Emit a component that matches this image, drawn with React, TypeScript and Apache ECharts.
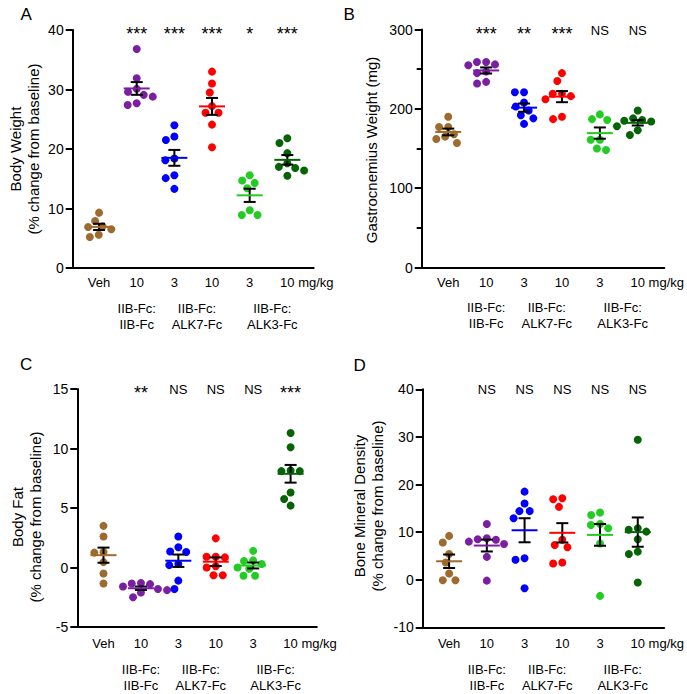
import React, { useEffect, useRef } from "react";
import * as echarts from "echarts";

const FONT = "'Liberation Sans', Arial, Helvetica, sans-serif";

const tickLabels = ["Veh", "10", "3", "10", "3", "10"];
const unitSuffix = " mg/kg";
const groupLabels = ["IIB-Fc:\nIIB-Fc", "IIB-Fc:\nALK7-Fc", "IIB-Fc:\nALK3-Fc"];
const groupLabelPos = [1, 2.6, 4.6];
const groupColors = ["#9E6B2F", "#7B1FA2", "#0000FF", "#FF0000", "#22CC22", "#066406"];

const bodyWeightVeh = [9.3, 7.9, 7.0, 6.9, 6.5, 5.6, 5.2];
const bodyWeightIIB10 = [36.8, 31.9, 30.1, 29.6, 29.1, 28.8, 27.7, 27.4];
const bodyWeightALK7_3 = [24.0, 22.1, 21.5, 18.4, 18.1, 15.6, 15.1, 13.3];
const bodyWeightALK7_10 = [33.0, 31.0, 29.5, 27.2, 26.1, 26.1, 24.1, 20.3];
const bodyWeightALK3_3 = [15.6, 14.7, 14.3, 13.4, 9.7, 8.9, 8.9];
const bodyWeightALK3_10 = [21.8, 21.0, 19.3, 17.6, 17.0, 16.8, 16.4, 15.5];
const bodyWeightSig = ["", "***", "***", "***", "*", "***"];

const gastroVeh = [190, 177, 177, 168, 165, 162, 157];
const gastroIIB10 = [259, 259, 256, 255, 247, 245, 234, 232];
const gastroALK7_3 = [221, 221, 208, 203, 198, 192, 188, 181];
const gastroALK7_10 = [245, 235, 219, 219, 216, 212, 190, 187];
const gastroALK3_3 = [193, 187, 186, 161, 161, 150, 148];
const gastroALK3_10 = [198, 188, 186, 185, 184, 178, 173, 167];
const gastroSig = ["", "***", "**", "***", "NS", "NS"];

const fatVeh = [3.5, 2.6, 1.3, 1.25, 0.45, -0.5, -1.35];
const fatIIB10 = [-1.3, -1.35, -1.4, -1.6, -1.8, -1.9, -2.1, -2.5];
const fatALK7_3 = [2.6, 1.7, 1.35, 1.3, 0.3, 0.2, -1.1, -1.8];
const fatALK7_10 = [2.45, 0.9, 0.9, 0.85, 0.1, 0.0, -0.65, -0.65];
const fatALK3_3 = [1.4, 0.6, 0.55, 0.3, 0.0, -0.1, -0.7, -0.7];
const fatALK3_10 = [11.3, 10.1, 8.15, 8.1, 8.1, 6.3, 5.75, 5.2];
const fatSig = ["", "**", "NS", "NS", "NS", "***"];

const bmdVeh = [9.2, 7.8, 5.4, 3.6, 1.3, -0.1, -0.1];
const bmdIIB10 = [11.7, 8.7, 8.5, 8.4, 8.0, 7.5, 4.8, -0.2];
const bmdALK7_3 = [18.5, 16.0, 14.4, 14.4, 12.9, 4.5, 4.2, -1.8];
const bmdALK7_10 = [17.1, 16.9, 15.3, 8.4, 7.3, 6.8, 3.4, 3.6];
const bmdALK3_3 = [14.1, 13.6, 11.7, 11.5, 10.8, 7.6, -3.4];
const bmdALK3_10 = [29.4, 10.8, 10.5, 10.1, 8.5, 5.9, 5.4, -0.6];
const bmdSig = ["", "NS", "NS", "NS", "NS", "NS"];

type Panel = {
  letter: string;
  letterPos: [number, number];
  title: string;
  titlePos: [number, number];
  grid: { left: number; top: number; width: number; height: number };
  yMin: number;
  yMax: number;
  yInterval: number;
  minor: boolean;
  groups: number[][];
  sig: string[];
  labelMargin: number;
};

const panels: Panel[] = [
  {
    letter: "A", letterPos: [20.5, 14], title: "Body Weight\n(% change from baseline)", titlePos: [24.7, 149],
    grid: { left: 72.7, top: 30, width: 241, height: 238 },
    yMin: 0, yMax: 40, yInterval: 10, minor: false,
    groups: [bodyWeightVeh, bodyWeightIIB10, bodyWeightALK7_3, bodyWeightALK7_10, bodyWeightALK3_3, bodyWeightALK3_10],
    sig: bodyWeightSig, labelMargin: 8,
  },
  {
    letter: "B", letterPos: [343.5, 14], title: "Gastrocnemius Weight (mg)", titlePos: [371, 150],
    grid: { left: 421.7, top: 29.5, width: 243, height: 238 },
    yMin: 0, yMax: 300, yInterval: 100, minor: true,
    groups: [gastroVeh, gastroIIB10, gastroALK7_3, gastroALK7_10, gastroALK3_3, gastroALK3_10],
    sig: gastroSig, labelMargin: 8,
  },
  {
    letter: "C", letterPos: [20, 364], title: "Body Fat\n(% change from baseline)", titlePos: [26.2, 517],
    grid: { left: 77.3, top: 389, width: 239.5, height: 238 },
    yMin: -5, yMax: 15, yInterval: 5, minor: false,
    groups: [fatVeh, fatIIB10, fatALK7_3, fatALK7_10, fatALK3_3, fatALK3_10],
    sig: fatSig, labelMargin: 10,
  },
  {
    letter: "D", letterPos: [353.5, 365], title: "Bone Mineral Density\n(% change from baseline)", titlePos: [368.3, 506],
    grid: { left: 422.7, top: 389.3, width: 242, height: 238 },
    yMin: -10, yMax: 40, yInterval: 10, minor: false,
    groups: [bmdVeh, bmdIIB10, bmdALK7_3, bmdALK7_10, bmdALK3_3, bmdALK3_10],
    sig: bmdSig, labelMargin: 10,
  },
];

const X_MIN = -0.7;
const X_MAX = 5.7;
const DOT = 8;
const POSITIONS = [0, 1, 2, 3, 4, 5];

function swarmOffsets(vals: number[], yPx: number, xPx: number, d: number): number[] {
  const order = vals.map((_, i) => i).sort((a, b) => vals[b] - vals[a]);
  const placed: { x: number; y: number }[] = [];
  const offs = new Array(vals.length).fill(0);
  for (const i of order) {
    const y = vals[i] * yPx;
    const cands: number[] = [0];
    for (const p of placed) {
      const dy = Math.abs(p.y - y);
      if (dy < d) {
        const dx = Math.sqrt(d * d - dy * dy);
        cands.push(p.x + dx, p.x - dx);
      }
    }
    cands.sort((a, b) => Math.abs(a) - Math.abs(b) || a - b);
    let best = 0;
    for (const c of cands) {
      if (placed.every((p) => (p.x - c) ** 2 + (p.y - y) ** 2 >= d * d - 1e-6)) {
        best = c;
        break;
      }
    }
    placed.push({ x: best, y });
    offs[i] = best / xPx;
  }
  return offs;
}

function meanSem(vals: number[]): [number, number] {
  const n = vals.length;
  const m = vals.reduce((a, b) => a + b, 0) / n;
  const v = vals.reduce((a, b) => a + (b - m) ** 2, 0) / (n - 1);
  return [m, Math.sqrt(v) / Math.sqrt(n)];
}

function sigAxis(p: Panel, pi: number, kind: "star" | "text") {
  const isKind = (s: string) => !!s && (kind === "star" ? s.includes("*") : !s.includes("*"));
  return {
    type: "value", gridIndex: pi, min: X_MIN, max: X_MAX, position: "top",
    axisLine: { show: false },
    axisTick: { show: false },
    splitLine: { show: false },
    axisLabel: {
      show: true,
      customValues: POSITIONS,
      margin: kind === "star" ? -13 : -7,
      color: "#000",
      fontFamily: FONT,
      fontSize: kind === "star" ? 18 : 13,
      formatter: (v: number) => {
        const i = Math.round(v);
        const s = p.sig[i];
        return s && isKind(s) ? s : "";
      },
    },
  };
}

function buildOption() {
  const grids: any[] = [];
  const xAxes: any[] = [];
  const yAxes: any[] = [];
  const series: any[] = [];
  const graphics: any[] = [];

  panels.forEach((p, pi) => {
    grids.push({ ...p.grid, containLabel: false });
    const xPx = p.grid.width / (X_MAX - X_MIN);
    const yPx = p.grid.height / (p.yMax - p.yMin);
    const xi = xAxes.length;

    xAxes.push({
      type: "value", gridIndex: pi, min: X_MIN, max: X_MAX, position: "bottom",
      axisLine: { show: true, onZero: false, lineStyle: { color: "#000", width: 2 } },
      axisTick: { show: false },
      splitLine: { show: false },
      axisLabel: {
        show: true,
        customValues: POSITIONS,
        margin: p.labelMargin,
        color: "#000",
        fontFamily: FONT,
        fontSize: 13,
        formatter: (v: number) => {
          const i = Math.round(v);
          if (i === tickLabels.length - 1) return "{pad|}" + tickLabels[i] + unitSuffix;
          return tickLabels[i] ?? "";
        },
        rich: { pad: { width: 39 } },
      },
    });
    xAxes.push({
      type: "value", gridIndex: pi, min: X_MIN, max: X_MAX, position: "bottom",
      axisLine: { show: false },
      axisTick: { show: false },
      splitLine: { show: false },
      axisLabel: {
        show: true,
        customValues: groupLabelPos,
        margin: p.labelMargin + 24,
        color: "#000",
        fontFamily: FONT,
        fontSize: 13,
        lineHeight: 16,
        align: "center",
        formatter: (v: number) => {
          const i = groupLabelPos.findIndex((g) => Math.abs(g - v) < 1e-6);
          return i >= 0 ? groupLabels[i] : "";
        },
      },
    });
    xAxes.push(sigAxis(p, pi, "star"));
    xAxes.push(sigAxis(p, pi, "text"));

    yAxes.push({
      type: "value", gridIndex: pi, min: p.yMin, max: p.yMax, interval: p.yInterval,
      axisLine: { show: true, onZero: false, lineStyle: { color: "#000", width: 2 } },
      axisTick: { show: true, length: 7, lineStyle: { color: "#000", width: 2 } },
      minorTick: { show: p.minor, splitNumber: 2, length: 5, lineStyle: { color: "#000", width: 2 } },
      splitLine: { show: false },
      axisLabel: { color: "#000", fontFamily: FONT, fontSize: 14, margin: 9 },
    });

    p.groups.forEach((vals, gi) => {
      const offs = swarmOffsets(vals, yPx, xPx, DOT + 1.2);
      series.push({
        type: "scatter",
        xAxisIndex: xi, yAxisIndex: pi,
        symbol: "circle", symbolSize: DOT,
        itemStyle: { color: groupColors[gi], opacity: 1 },
        data: vals.map((v, j) => [gi + offs[j], v]),
        silent: true,
        z: 2,
      });
    });

    const stats = p.groups.map((vals, gi) => {
      const [m, s] = meanSem(vals);
      return [gi, m, s];
    });
    series.push({
      type: "custom",
      xAxisIndex: xi, yAxisIndex: pi,
      data: stats,
      silent: true,
      z: 3,
      renderItem: (params: any, api: any) => {
        const x = api.value(0);
        const m = api.value(1);
        const s = api.value(2);
        const c = api.coord([x, m]);
        const t = api.coord([x, m + s]);
        const b = api.coord([x, m - s]);
        const col = groupColors[params.dataIndex];
        const black = { stroke: "#000", lineWidth: 2 };
        return {
          type: "group",
          children: [
            { type: "line", shape: { x1: c[0], y1: t[1], x2: c[0], y2: b[1] }, style: black },
            { type: "line", shape: { x1: c[0] - 6, y1: t[1], x2: c[0] + 6, y2: t[1] }, style: black },
            { type: "line", shape: { x1: c[0] - 6, y1: b[1], x2: c[0] + 6, y2: b[1] }, style: black },
            { type: "line", shape: { x1: c[0] - 13, y1: c[1], x2: c[0] + 13, y2: c[1] }, style: { stroke: col, lineWidth: 2 } },
          ],
        };
      },
    });

    graphics.push({
      type: "text",
      x: p.letterPos[0], y: p.letterPos[1],
      style: { text: p.letter, font: `17px ${FONT}`, fill: "#000", textAlign: "left", textVerticalAlign: "middle" },
    });
    graphics.push({
      type: "text",
      x: p.titlePos[0], y: p.titlePos[1],
      rotation: Math.PI / 2,
      style: {
        text: p.title, font: `15px ${FONT}`, fill: "#000",
        textAlign: "center", textVerticalAlign: "middle", lineHeight: 18,
      },
    });
  });

  return {
    animation: false,
    backgroundColor: "#fff",
    grid: grids,
    xAxis: xAxes,
    yAxis: yAxes,
    series,
    graphic: graphics,
  };
}

export default function App() {
  const ref = useRef<HTMLDivElement>(null);
  useEffect(() => {
    document.body.style.margin = "0";
    if (!ref.current) return;
    const chart = echarts.init(ref.current, undefined, { renderer: "svg" });
    chart.setOption(buildOption() as any);
    return () => chart.dispose();
  }, []);
  return <div ref={ref} style={{ width: 687, height: 694 }} />;
}
